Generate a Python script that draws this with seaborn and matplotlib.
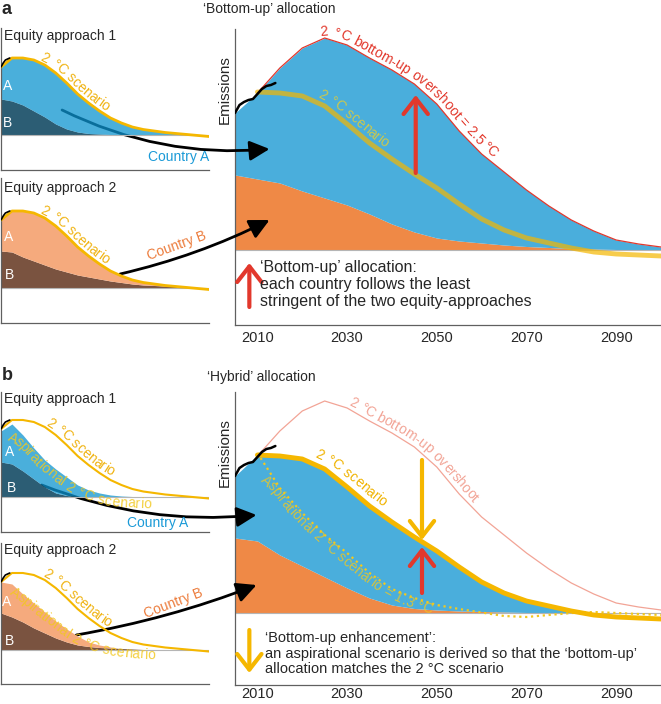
import numpy as np
import matplotlib
matplotlib.use("Agg")
import matplotlib.pyplot as plt
import seaborn as sns
from matplotlib.patches import ConnectionPatch

# values (arbitrary emission units)
years = [2005, 2010, 2015, 2020, 2025, 2030, 2035, 2040, 2045, 2050,
         2055, 2060, 2065, 2070, 2075, 2080, 2085, 2090, 2095, 2100]
tick_years = [2010, 2020, 2030, 2040, 2050, 2060, 2070, 2080, 2090, 2100]
tick_labels = ["2010", "", "2030", "", "2050", "", "2070", "", "2090", ""]

hist_years = [2005, 2006, 2007, 2008, 2009, 2010, 2011, 2012, 2013, 2014]
hist_main = [137, 145, 148, 150, 151, 156, 161, 164, 165, 167]
hist_small_years = [2005, 2006, 2007, 2008, 2009]
hist_small = [68, 72, 75, 76, 77]

# small panels (equity approaches)
scen_small = [68, 77, 77, 75, 70, 62, 52, 41, 32, 24, 17, 12, 8, 5.5, 4, 2.5, 1.5, 0.5, -0.5, -1.5]
eq1_country_b = [36, 34, 30, 24, 18, 11, 6, 3, 1.5, 1, 0.5, 0.3, 0.2, 0.1, 0, 0, 0, 0, 0, 0]
eq2_country_b = [37, 36, 31, 27, 23, 19, 16, 13, 11, 9, 7, 5.5, 4, 3, 2.5, 2, 1.5, 1, 0.5, 0]
asp_eq1 = [66, 73, 62, 49, 37, 28, 20, 12, 7, 4, 2, 1, 0.5, 0, -0.5, -1, -1, -1, -1, -1]
asp_eq1_country_b = [35, 33, 26, 18, 10, 4, 1.5, 0.5, 0, 0, 0, 0, 0, 0, 0, 0, 0, 0, 0, 0]
asp_eq2 = [68, 66, 56, 47, 38, 29, 21, 14, 8, 5, 3, 1, 0, -0.5, -1, -1, -1, -1, -1, -1]
asp_eq2_country_b = [37, 33, 28, 22, 17, 12, 8, 5, 3.5, 2.5, 2, 1.5, 1, 0.5, 0.3, 0, 0, 0, 0, 0]

# large panels
overshoot = [137, 157, 182, 202, 212, 205, 192, 180, 166, 146, 119, 96, 78, 60, 44, 30, 19, 10, 6, 3]
scen_main = [137, 158, 157, 154, 144, 126, 107, 91, 76, 62, 46, 31, 20, 12, 7, 2, -2, -4, -5, -6]
bottom_up_country_b = [75, 71, 67, 59, 52, 45, 36, 26, 18, 12, 9, 7, 5, 3.5, 2.5, 1.5, 1, 0.5, 0.2, 0]
hybrid_country_b = [75, 72, 58, 47, 36, 25, 15, 8, 4.5, 3, 2, 1.5, 1, 0.5, 0, 0, 0, 0, 0, 0]
aspirational = [137, 160, 125, 100, 78, 60, 40, 24, 15, 8, 4, 0.5, -3, -4, -2, 0, 1, 0, -1, -2]

BLUE = "#4aaedc"
BLUE_T = "#0d94d0"
DARK_BLUE = "#2c5d74"
ORANGE = "#ef8946"
LIGHT_ORANGE = "#f5aa7d"
BROWN = "#7a5340"
YELLOW = "#f5b700"
ASP_YELLOW = "#f2c81e"
RED = "#e2382c"
SALMON = "#f2a496"

sns.set_style("white")
plt.rcParams["font.family"] = ["Liberation Sans", "DejaVu Sans"]

W, H = 661, 704
fig = plt.figure(figsize=(W / 100, H / 100), dpi=100)
renderer = fig.canvas.get_renderer()


def add_axes(left, top, right, bottom, ylim, small, pad=4):
    ax = fig.add_axes([left / W, 1 - bottom / H, (right - left) / W, (bottom - top) / H])
    ax.set_xlim(2005, 2100)
    ax.set_ylim(*ylim)
    ax.set_facecolor("none")
    sns.despine(ax=ax)
    for s in ("left", "bottom"):
        ax.spines[s].set_color("#606060")
        ax.spines[s].set_linewidth(0.9)
    ax.set_xticks(tick_years)
    ax.tick_params(direction="in", length=3.5, width=0.8, color="#606060",
                   labelsize=10.5, pad=pad)
    ax.axhline(0, color="#b5b5b5", lw=0.8, zorder=1.5)
    if small:
        ax.set_xticklabels([])
        ax.set_yticks([])
        ax.set_zorder(2)
    else:
        ax.set_xticklabels(tick_labels)
        ax.set_yticks([147, ylim[1]])
        ax.set_yticklabels([])
        ax.set_zorder(0)
        ax.text(-0.025, 160, "Emissions", rotation=90, ha="center", va="center",
                fontsize=11, transform=ax.get_yaxis_transform())
    return ax


def ftext(x, y, s, **kw):
    return fig.text(x / W, 1 - y / H, s, **kw)


def text_width(s, size):
    t = fig.text(0, 0, s + "|", fontsize=size)
    w = t.get_window_extent(renderer).width
    t.remove()
    return w


def curve_text(ax, s, xs, ys, x_start, offset, size, color, alpha=1.0, smooth=22):
    # lay characters one by one along a (smoothed) series
    n = 3000
    xd = np.linspace(xs[0], xs[-1], n)
    pts = ax.transData.transform(np.column_stack([xd, np.interp(xd, xs, ys)]))
    k = max(3, int(n * smooth / ax.bbox.width)) | 1
    kern = np.ones(k) / k
    pts = np.column_stack([np.convolve(np.pad(pts[:, i], k // 2, mode="edge"), kern, mode="valid")
                           for i in range(2)])
    arc = np.concatenate([[0], np.cumsum(np.hypot(*np.diff(pts, axis=0).T))])
    s0 = np.interp(x_start, xd, arc)
    bar = text_width("", size)
    inv = ax.transData.inverted()
    prev = 0.0
    for i, ch in enumerate(s):
        right = text_width(s[: i + 1], size) - bar
        mid = s0 + (prev + right) / 2
        prev = right
        if ch == " ":
            continue
        p = np.array([[np.interp(mid + d, arc, pts[:, 0]), np.interp(mid + d, arc, pts[:, 1])]
                      for d in (-6, 0, 6)])
        ang = np.arctan2(p[2, 1] - p[0, 1], p[2, 0] - p[0, 0])
        pos = p[1] + offset * np.array([-np.sin(ang), np.cos(ang)])
        x, y = inv.transform(pos)
        ax.text(x, y, ch, rotation=np.degrees(ang), rotation_mode="anchor",
                ha="center", va="baseline", fontsize=size, color=color,
                alpha=alpha, clip_on=False, zorder=6)


def v_arrow(ax, x, y0, y1, color, lw=3):
    ax.annotate("", xy=(x, y1), xytext=(x, y0),
                arrowprops=dict(arrowstyle="->,head_length=0.45,head_width=0.35",
                                color=color, lw=lw, mutation_scale=25,
                                shrinkA=0, shrinkB=0), zorder=7, annotation_clip=False)


def link(ax_from, xy_from, ax_to, xy_to, rad):
    con = ConnectionPatch(xyA=xy_from, coordsA="data", axesA=ax_from,
                          xyB=xy_to, coordsB="data", axesB=ax_to,
                          arrowstyle="-|>,head_length=0.6,head_width=0.3",
                          mutation_scale=20, lw=2, color="black",
                          connectionstyle=f"arc3,rad={rad}", zorder=1)
    con.set_annotation_clip(False)
    fig.add_artist(con)


def small_panel(top, base, bottom, b_vals, a_vals, b_col, a_col, a_alpha):
    ax = add_axes(1, top, 209, bottom, (base - bottom, base - top), True)
    b = np.array(b_vals)
    a = np.array(a_vals)
    ax.fill_between(years, 0, b, color=b_col, lw=0, zorder=1)
    ax.fill_between(years, b, a, where=a >= b, interpolate=True, color=a_col,
                    alpha=a_alpha, lw=0, zorder=1)
    return ax


# ---------------- panel a ----------------
ftext(2, 9, "a", fontsize=13, fontweight="bold", va="center")
ftext(203, 9, "\u2018Bottom-up\u2019 allocation", fontsize=10, va="center")

a1 = small_panel(28, 135, 170, eq1_country_b, scen_small, DARK_BLUE, BLUE_T, 0.75)
sns.lineplot(x=years, y=scen_small, ax=a1, color=YELLOW, lw=2, zorder=3)
sns.lineplot(x=hist_small_years, y=hist_small, ax=a1, color="black", lw=1.2, zorder=4)
curve_text(a1, "2 \u00b0C scenario", years, scen_small, 2022, 3, 10, "#f0b414")
ftext(4, 36, "Equity approach 1", fontsize=10, va="center")
ftext(8, 86, "A", fontsize=10, color="white", ha="center", va="center")
ftext(8, 123, "B", fontsize=10, color="white", ha="center", va="center")

a2 = small_panel(178, 288, 323, eq2_country_b, scen_small, BROWN, LIGHT_ORANGE, 1.0)
sns.lineplot(x=years, y=scen_small, ax=a2, color=YELLOW, lw=2, zorder=3)
sns.lineplot(x=hist_small_years, y=hist_small, ax=a2, color="black", lw=1.2, zorder=4)
curve_text(a2, "2 \u00b0C scenario", years, scen_small, 2022, 3, 10, "#f0b414")
ftext(4, 188, "Equity approach 2", fontsize=10, va="center")
ftext(9, 237, "A", fontsize=10, color="white", ha="center", va="center")
ftext(9, 275, "B", fontsize=10, color="white", ha="center", va="center")

ma = add_axes(235, 29, 661, 325, (-75, 221), False)
ob = np.array(overshoot)
cb = np.array(bottom_up_country_b)
ma.fill_between(years, 0, cb, color=ORANGE, lw=0, zorder=1)
ma.fill_between(years, cb, ob, color=BLUE, lw=0, zorder=1)
sns.lineplot(x=years[1:], y=overshoot[1:], ax=ma, color=RED, lw=0.9, zorder=2)
sns.lineplot(x=years[1:], y=scen_main[1:], ax=ma, color=YELLOW, lw=3.5, alpha=0.7, zorder=3)
sns.lineplot(x=hist_years, y=hist_main, ax=ma, color="black", lw=1.8, zorder=4)
curve_text(ma, "2 \u00b0C bottom-up overshoot = 2.5 \u00b0C", years, overshoot, 2024, 4, 10, RED)
curve_text(ma, "2 \u00b0C scenario", years, scen_main, 2022.8, 5, 10, "#f5d020", alpha=0.75)
v_arrow(ma, 2045.3, 77, 155, RED)
v_arrow(ma, 2008.2, -57, -13, RED)
ftext(260, 260, "\u2018Bottom-up\u2019 allocation:\neach country follows the least\n"
      "stringent of the two equity-approaches", fontsize=11.5, va="top", linespacing=1.18)

ftext(179, 157, "Country A", fontsize=10, color="#1b9ad7", ha="center", va="center")
ftext(177, 246, "Country B", fontsize=10, color="#ec7c3c", ha="center", va="center", rotation=20)
link(a1, (2032.9, 25), ma, (2012.7, 101), 0.14)
link(a2, (2059.4, 14), ma, (2012.7, 30), 0.06)

# ---------------- panel b ----------------
ftext(2, 376, "b", fontsize=13, fontweight="bold", va="center")
ftext(207, 377, "\u2018Hybrid\u2019 allocation", fontsize=10, va="center")

b1 = small_panel(392, 497, 532, asp_eq1_country_b, asp_eq1, DARK_BLUE, BLUE_T, 0.75)
sns.lineplot(x=years, y=scen_small, ax=b1, color=YELLOW, lw=1.5, zorder=3)
sns.lineplot(x=hist_small_years, y=hist_small, ax=b1, color="black", lw=1.2, zorder=4)
curve_text(b1, "2 \u00b0C scenario", years, scen_small, 2024.5, 3, 10, "#f0b414")
curve_text(b1, "Aspirational 2 \u00b0C scenario", years, asp_eq1, 2010, -11, 10,
           ASP_YELLOW, alpha=0.85, smooth=32)
ftext(4, 399, "Equity approach 1", fontsize=10, va="center")
ftext(10, 452, "A", fontsize=10, color="white", ha="center", va="center")
ftext(11, 488, "B", fontsize=10, color="white", ha="center", va="center")

b2 = small_panel(543, 650, 684, asp_eq2_country_b, asp_eq2, BROWN, LIGHT_ORANGE, 1.0)
sns.lineplot(x=years, y=scen_small, ax=b2, color=YELLOW, lw=1.5, zorder=3)
sns.lineplot(x=hist_small_years, y=hist_small, ax=b2, color="black", lw=1.2, zorder=4)
curve_text(b2, "2 \u00b0C scenario", years, scen_small, 2023, 3, 10, "#f0b414")
curve_text(b2, "Aspirational 2 \u00b0C scenario", years, asp_eq2, 2010.5, -8, 10,
           ASP_YELLOW, alpha=0.85, smooth=32)
ftext(4, 550, "Equity approach 2", fontsize=10, va="center")
ftext(7, 602, "A", fontsize=10, color="white", ha="center", va="center")
ftext(10, 641, "B", fontsize=10, color="white", ha="center", va="center")

mb = add_axes(235, 392, 661, 685, (-72, 221), False, pad=1.5)
sc = np.array(scen_main)
hb = np.array(hybrid_country_b)
mb.fill_between(years, 0, hb, color=ORANGE, lw=0, zorder=1)
mb.fill_between(years, hb, sc, where=sc >= hb, interpolate=True, color=BLUE, lw=0, zorder=1)
sns.lineplot(x=years[1:], y=overshoot[1:], ax=mb, color=SALMON, lw=0.9, zorder=2)
sns.lineplot(x=years[1:], y=aspirational[1:], ax=mb, color=ASP_YELLOW, lw=1.6,
             linestyle=":", zorder=3)
sns.lineplot(x=years[1:], y=scen_main[1:], ax=mb, color=YELLOW, lw=3.5, zorder=3)
sns.lineplot(x=hist_years, y=hist_main, ax=mb, color="black", lw=1.8, zorder=4)
curve_text(mb, "2 \u00b0C bottom-up overshoot", years, overshoot, 2029.8, 4, 10, SALMON)
curve_text(mb, "2 \u00b0C scenario", years, scen_main, 2022, 7, 10, "#f0b300")
curve_text(mb, "Aspirational 2 \u00b0C scenario = 1.3 \u00b0C", years, aspirational, 2012.3, -11, 10,
           ASP_YELLOW, alpha=0.8, smooth=45)
v_arrow(mb, 2046.7, 153, 73, YELLOW)
v_arrow(mb, 2046.7, 20, 66, RED)
v_arrow(mb, 2008.2, -17, -60, YELLOW)
ftext(265, 631, "\u2018Bottom-up enhancement\u2019:\nan aspirational scenario is derived so that the "
      "\u2018bottom-up\u2019\nallocation matches the 2 \u00b0C scenario",
      fontsize=10.5, va="top", linespacing=1.15)

ftext(158, 523, "Country A", fontsize=10, color="#1b9ad7", ha="center", va="center")
ftext(173, 603, "Country B", fontsize=10, color="#ec7c3c", ha="center", va="center", rotation=21)
link(b1, (2023.6, 12), mb, (2009.8, 98), 0.12)
link(b2, (2039.4, 15), mb, (2009.8, 28), 0.05)

fig.savefig("out.png", dpi=100)
